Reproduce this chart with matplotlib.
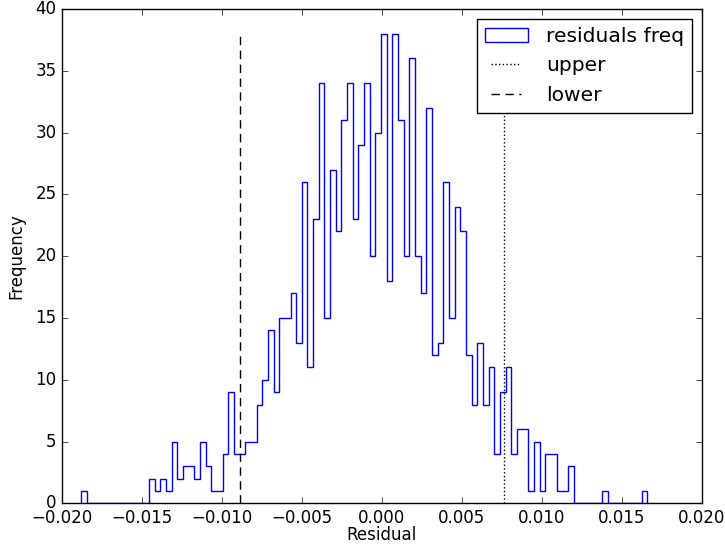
import numpy as np
import matplotlib
matplotlib.use('Agg')
import matplotlib.pyplot as plt

# ---------------------------------------------
# residual histogram, 100 bins between min and max residual
# counts read off the picture bin by bin
# ---------------------------------------------
counts = [1, 0, 0, 0, 0, 0, 0, 0, 0, 0,
          0, 0, 2, 1, 2, 1, 5, 2, 3, 3,
          2, 5, 3, 1, 1, 4, 9, 4, 4, 5,
          5, 8, 10, 14, 9, 15, 15, 17, 13, 26,
          11, 23, 34, 15, 27, 22, 31, 34, 23, 29,
          34, 20, 30, 38, 18, 38, 31, 20, 36, 20,
          17, 32, 12, 13, 26, 15, 24, 22, 12, 8,
          13, 8, 11, 4, 9, 11, 4, 6, 6, 1,
          5, 1, 4, 4, 1, 1, 3, 0, 0, 0,
          0, 0, 1, 0, 0, 0, 0, 0, 0, 1]

res_min = -0.01881
res_max = 0.016587

# thresholds
upper = 0.00763
lower = -0.008866

plt.style.use('classic')
plt.rcParams['figure.facecolor'] = 'white'

edges = np.linspace(res_min, res_max, len(counts) + 1)
centers = 0.5 * (edges[:-1] + edges[1:])

fig = plt.figure(figsize=(7.25, 5.46))
ax = fig.add_axes([0.0855, 0.078, 0.8825, 0.9055])

n, bins, patches = ax.hist(centers, bins=edges, weights=counts,
                           histtype='step', color='b',
                           label='residuals freq')
up = ax.vlines(upper, 0, max(counts), colors='k',
               linestyles=[(0, (1, 1.7))], label='upper')
lo = ax.vlines(lower, 0, max(counts), colors='k',
               linestyles=[(0, (6, 4))], label='lower')

ax.set_xlim(-0.02, 0.02)
ax.set_ylim(0, 40)
ax.set_xlabel('Residual', fontsize=12, labelpad=-1)
ax.set_ylabel('Frequency', fontsize=12, labelpad=7)
ax.legend(handles=[patches[0], up, lo], loc='upper right',
          fontsize=14.6, borderaxespad=0.5, handlelength=2.1,
          borderpad=0.38, labelspacing=0.52, handletextpad=0.9)

fig.savefig('out.png', dpi=100, facecolor='white')
